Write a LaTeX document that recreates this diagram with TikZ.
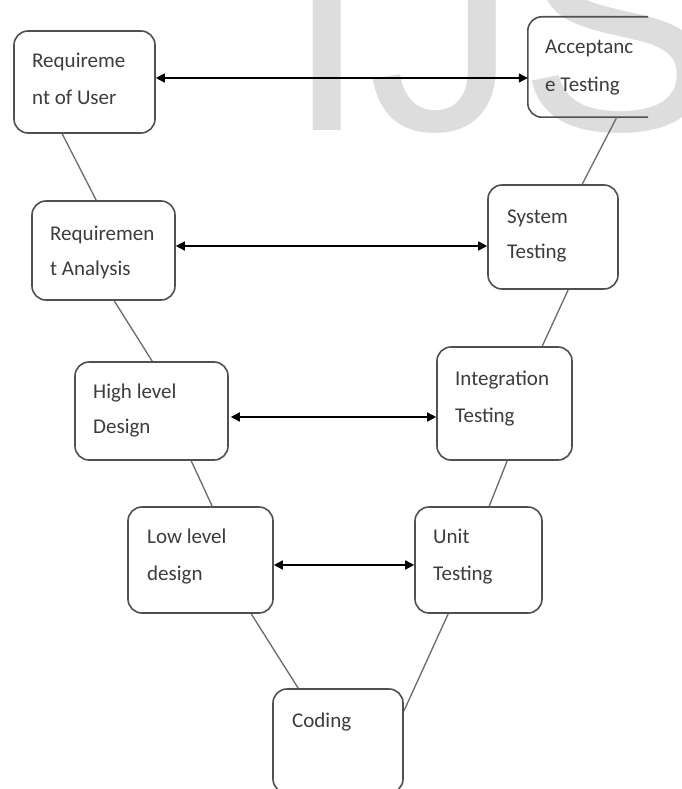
\documentclass[tikz,border=0pt]{standalone}
\usepackage{fontspec}
\setmainfont{Carlito}
\newfontfamily\wmfont{Liberation Sans}
\usetikzlibrary{arrows.meta}
\definecolor{boxc}{HTML}{505050}
\definecolor{linec}{HTML}{6A6A6A}
\definecolor{txtc}{HTML}{3C3C3C}
\definecolor{wmc}{HTML}{DDDDDD}
\tikzset{
  vbox/.style={draw=boxc, line width=1.6pt, rounded corners=14pt, rectangle, inner sep=0pt},
  openbox/.style={rectangle, inner sep=0pt},
  lbl/.style={anchor=base west, inner sep=0pt, text=txtc, font=\fontsize{21}{25}\selectfont},
  conn/.style={draw=linec, line width=1.3pt},
  dbl/.style={draw=black, line width=1.6pt, {Triangle[length=9pt,width=9pt]}-{Triangle[length=9pt,width=9pt]}},
}
\begin{document}
\begin{tikzpicture}[x=1pt,y=-1pt]
\useasboundingbox (0,0) rectangle (682,789);
\clip (0,0) rectangle (682,789);
\fill[white] (0,0) rectangle (682,789);
% watermark
\node[anchor=base west, inner sep=0pt, text=wmc, font=\wmfont\fontsize{300}{300}\selectfont] (wm) at (285,131) {IJS};
% boxes
\node[vbox, minimum width=141pt, minimum height=102pt] (u1) at (84.5,82) {};
\node[openbox, minimum width=120pt, minimum height=100pt] (acc) at (588,67) {};
\draw[draw=boxc, line width=1.6pt, rounded corners=14pt] (acc.north east) -- (acc.north west) -- (acc.south west) -- (acc.south east);
\node[vbox, minimum width=143pt, minimum height=99pt] (ra) at (103.5,250.5) {};
\node[vbox, minimum width=130pt, minimum height=104pt] (st) at (553,237) {};
\node[vbox, minimum width=153pt, minimum height=98pt] (hl) at (151.5,411) {};
\node[vbox, minimum width=135pt, minimum height=113pt] (it) at (504.5,403.5) {};
\node[vbox, minimum width=145pt, minimum height=106pt] (ll) at (200.5,560) {};
\node[vbox, minimum width=127pt, minimum height=106pt] (ut) at (478.5,560) {};
\node[vbox, minimum width=130pt, minimum height=104pt] (cd) at (338,741) {};
% texts
\node[lbl] (u1a) at (32,68) {Requireme};
\node[lbl] (u1b) at (32,105) {nt of User};
\node[lbl] (acca) at (545,54) {Acceptanc};
\node[lbl] (accb) at (545,92) {e Testing};
\node[lbl] (raa) at (50,240) {Requiremen};
\node[lbl] (rab) at (50,275) {t Analysis};
\node[lbl] (sta) at (507,223) {System};
\node[lbl] (stb) at (507,258) {Testing};
\node[lbl] (hla) at (93,398) {High level};
\node[lbl] (hlb) at (93,433) {Design};
\node[lbl] (ita) at (455,385) {Integration};
\node[lbl] (itb) at (455,422) {Testing};
\node[lbl] (lla) at (147,543) {Low level};
\node[lbl] (llb) at (147,580) {design};
\node[lbl] (uta) at (433,543) {Unit};
\node[lbl] (utb) at (433,580) {Testing};
\node[lbl] (cda) at (292,727) {Coding};
% V connectors
\draw[conn] ([xshift=49pt]u1.south west) -- ([xshift=65pt]ra.north west);
\draw[conn] ([xshift=83pt]ra.south west) -- ([xshift=78pt]hl.north west);
\draw[conn] ([xshift=117pt]hl.south west) -- ([xshift=85pt]ll.north west);
\draw[conn] ([xshift=124pt]ll.south west) -- ([xshift=26pt]cd.north west);
\draw[conn] ([xshift=89pt]acc.south west) -- ([xshift=95pt]st.north west);
\draw[conn] ([xshift=81pt]st.south west) -- ([xshift=106pt]it.north west);
\draw[conn] ([xshift=71pt]it.south west) -- ([xshift=75pt]ut.north west);
\draw[conn] ([xshift=34pt]ut.south west) -- ([yshift=-23pt]cd.north east);
% double arrows
\draw[dbl] ([yshift=4pt]u1.east) -- ([yshift=-11pt]acc.west);
\draw[dbl] ([yshift=4.5pt]ra.east) -- ([yshift=-9pt]st.west);
\draw[dbl] ([xshift=2pt,yshift=-6pt]hl.east) -- ([yshift=-13.5pt]it.west);
\draw[dbl] ([yshift=-5pt]ll.east) -- ([yshift=-5pt]ut.west);
\end{tikzpicture}
\end{document}
